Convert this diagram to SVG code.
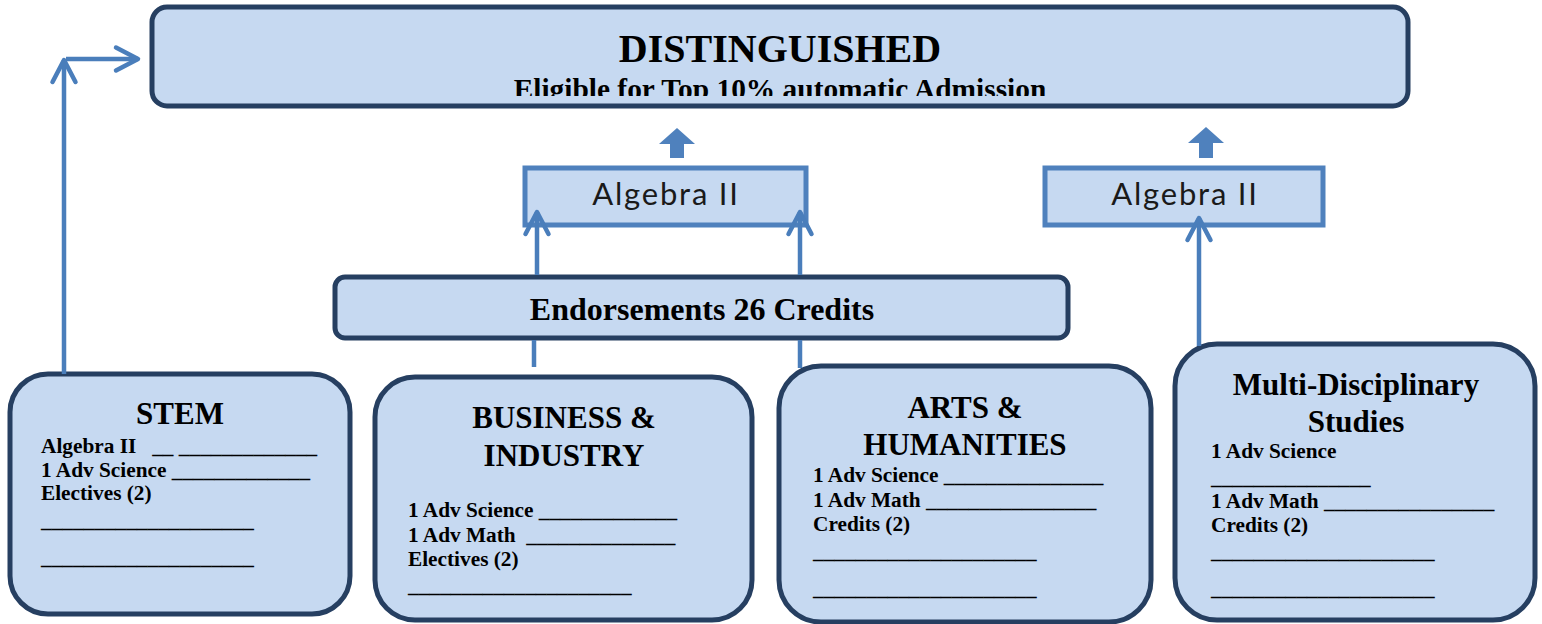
<svg xmlns="http://www.w3.org/2000/svg" width="1542" height="624" viewBox="0 0 1542 624">
<style>
.box{fill:#C6D9F1;stroke:#263F61;stroke-width:5}
.alg{fill:#C6D9F1;stroke:#4F81BD;stroke-width:5}
.con{stroke:#4A7EBB;stroke-width:4.5;fill:none}
.blk{fill:#4F81BD}
.t{font-family:"Liberation Serif","Times New Roman",serif;font-weight:bold;fill:#000}
.title{font-size:31px;text-anchor:middle}
.body{font-size:21.3px}
.alt{font-family:Lato,"Open Sans",sans-serif;font-size:31px;letter-spacing:1.8px;fill:#1a1a1a;text-anchor:middle}
</style>
<defs>
<marker id="chev" markerUnits="userSpaceOnUse" viewBox="-26 -14 30 28" markerWidth="30" markerHeight="28" refX="0" refY="0" orient="auto" overflow="visible">
<path d="M-22,-11.5 L0,0 L-22,11.5" fill="none" stroke="#4A7EBB" stroke-width="4.5" stroke-linecap="round" stroke-linejoin="round"/>
</marker>
<clipPath id="dclip"><rect x="152" y="6" width="1256" height="90"/></clipPath>
</defs>
<rect width="1542" height="624" fill="#fff"/>

<g id="distinguished">
<rect class="box" x="152" y="7" width="1256" height="99" rx="15"/>
<text class="t" x="780" y="62" font-size="40" text-anchor="middle">DISTINGUISHED</text>
<text class="t" x="780" y="99" font-size="29.4" text-anchor="middle" clip-path="url(#dclip)">Eligible for Top 10% automatic Admission</text>
</g>

<g id="algebra1">
<rect class="alg" x="525" y="168" width="281" height="57"/>
<text class="alt" x="666" y="205">Algebra II</text>
</g>

<g id="algebra2">
<rect class="alg" x="1045" y="168" width="278" height="57"/>
<text class="alt" x="1185" y="205">Algebra II</text>
</g>

<g id="endorsements">
<rect class="box" x="335" y="277" width="733" height="61" rx="10"/>
<text class="t" x="702" y="320" font-size="32" text-anchor="middle">Endorsements 26 Credits</text>
</g>

<g id="stem">
<rect class="box" x="10" y="374" width="340" height="240" rx="38"/>
<text class="t title" x="180" y="424">STEM</text>
<text class="t body" xml:space="preserve"><tspan x="41" y="453">Algebra II   __ _____________</tspan><tspan x="41" y="477">1 Adv Science _____________</tspan><tspan x="41" y="500">Electives (2)</tspan><tspan x="41" y="527">____________________</tspan><tspan x="41" y="564">____________________</tspan></text>
</g>

<g id="business">
<rect class="box" x="375" y="377" width="377" height="243" rx="40"/>
<text class="t title"><tspan x="564" y="428">BUSINESS &amp;</tspan><tspan x="564" y="466">INDUSTRY</tspan></text>
<text class="t body" xml:space="preserve"><tspan x="408" y="517">1 Adv Science _____________</tspan><tspan x="408" y="542">1 Adv Math  ______________</tspan><tspan x="408" y="566">Electives (2)</tspan><tspan x="408" y="592">_____________________</tspan></text>
</g>

<g id="arts">
<rect class="box" x="779" y="366" width="372" height="256" rx="42"/>
<text class="t title"><tspan x="965" y="418">ARTS &amp;</tspan><tspan x="965" y="455">HUMANITIES</tspan></text>
<text class="t body" xml:space="preserve"><tspan x="813" y="482">1 Adv Science _______________</tspan><tspan x="813" y="507">1 Adv Math ________________</tspan><tspan x="813" y="531">Credits (2)</tspan><tspan x="813" y="558">_____________________</tspan><tspan x="813" y="595">_____________________</tspan></text>
</g>

<g id="multi">
<rect class="box" x="1175" y="344" width="360" height="276" rx="42"/>
<text class="t title"><tspan x="1356" y="395">Multi-Disciplinary</tspan><tspan x="1356" y="432">Studies</tspan></text>
<text class="t body" xml:space="preserve"><tspan x="1211" y="458">1 Adv Science</tspan><tspan x="1211" y="484">_______________</tspan><tspan x="1211" y="508">1 Adv Math ________________</tspan><tspan x="1211" y="532">Credits (2)</tspan><tspan x="1211" y="558">_____________________</tspan><tspan x="1211" y="595">_____________________</tspan></text>
</g>

<g id="connectors">
<path class="con" d="M64,374 L64,60" marker-end="url(#chev)"/>
<path class="con" d="M66,59 L138,59" marker-end="url(#chev)"/>
<path class="con" d="M537,275 L537,212" marker-end="url(#chev)"/>
<path class="con" d="M800,275 L800,212" marker-end="url(#chev)"/>
<path class="con" d="M534,340 L534,367"/>
<path class="con" d="M800,340 L800,368"/>
<path class="con" d="M1199,346 L1199,218" marker-end="url(#chev)"/>
<path class="blk" d="M677,128 L695,144 L684,144 L684,158 L670,158 L670,144 L659,144 Z"/>
<path class="blk" d="M1206,127 L1224,143 L1213,143 L1213,158 L1199,158 L1199,143 L1188,143 Z"/>
</g>
</svg>
